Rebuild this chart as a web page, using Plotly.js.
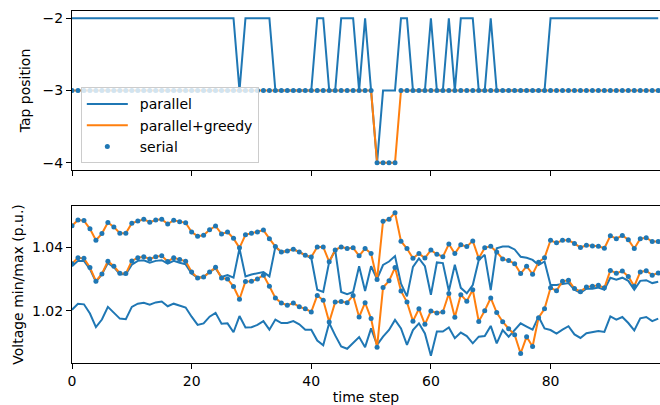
<!DOCTYPE html>
<html><head><meta charset="utf-8">
<script src="https://cdn.plot.ly/plotly-3.0.1.min.js"></script>
<style>html,body{margin:0;padding:0;background:#fff}#chart{width:660px;height:405px}</style>
</head><body><div id="chart"></div>
<script>
// time steps 0..98
const timeSteps = [];
for (let i = 0; i < 99; i++) timeSteps.push(i);

const parallelTap = [
 -2,-2,-2,-2,-2,-2,-2,-2,-2,-2,
 -2,-2,-2,-2,-2,-2,-2,-2,-2,-2,
 -2,-2,-2,-2,-2,-2,-2,-2,-3,-2,
 -2,-2,-2,-2,-3,-3,-3,-3,-3,-3,
 -3,-2,-2,-3,-3,-2,-2,-2,-3,-2,
 -3,-4,-3,-3,-3,-2,-2,-3,-3,-3,
 -2,-3,-3,-2,-3,-2,-2,-2,-3,-3,
 -2,-3,-3,-3,-3,-3,-3,-3,-3,-3,
 -2,-2,-2,-2,-2,-2,-2,-2,-2,-2,
 -2,-2,-2,-2,-2,-2,-2,-2,-2];
const greedyTap = [
 -3,-3,-3,-3,-3,-3,-3,-3,-3,-3,
 -3,-3,-3,-3,-3,-3,-3,-3,-3,-3,
 -3,-3,-3,-3,-3,-3,-3,-3,-3,-3,
 -3,-3,-3,-3,-3,-3,-3,-3,-3,-3,
 -3,-3,-3,-3,-3,-3,-3,-3,-3,-3,
 -3,-4,-4,-4,-4,-3,-3,-3,-3,-3,
 -3,-3,-3,-3,-3,-3,-3,-3,-3,-3,
 -3,-3,-3,-3,-3,-3,-3,-3,-3,-3,
 -3,-3,-3,-3,-3,-3,-3,-3,-3,-3,
 -3,-3,-3,-3,-3,-3,-3,-3,-3];
const serialTap = [
 -3,-3,-3,-3,-3,-3,-3,-3,-3,-3,
 -3,-3,-3,-3,-3,-3,-3,-3,-3,-3,
 -3,-3,-3,-3,-3,-3,-3,-3,-3,-3,
 -3,-3,-3,-3,-3,-3,-3,-3,-3,-3,
 -3,-3,-3,-3,-3,-3,-3,-3,-3,-3,
 -3,-4,-4,-4,-4,-3,-3,-3,-3,-3,
 -3,-3,-3,-3,-3,-3,-3,-3,-3,-3,
 -3,-3,-3,-3,-3,-3,-3,-3,-3,-3,
 -3,-3,-3,-3,-3,-3,-3,-3,-3,-3,
 -3,-3,-3,-3,-3,-3,-3,-3,-3];

const parallelVmax = [
 1.0340,1.0357,1.0357,1.0331,1.0291,1.0315,1.0350,1.0337,1.0315,1.0315,
 1.0345,1.0357,1.0359,1.0351,1.0357,1.0359,1.0348,1.0357,1.0351,1.0346,
 1.0317,1.0304,1.0306,1.0322,1.0333,1.0306,1.0312,1.0304,1.0396,1.0308,
 1.0314,1.0319,1.0322,1.0308,1.0401,1.0385,1.0388,1.0394,1.0385,1.0375,
 1.0366,1.0266,1.0259,1.0354,1.0391,1.0259,1.0252,1.0259,1.0340,1.0262,
 1.0340,1.0300,1.0344,1.0355,1.0372,1.0285,1.0245,1.0338,1.0365,1.0340,
 1.0250,1.0352,1.0350,1.0262,1.0345,1.0272,1.0255,1.0281,1.0360,1.0376,
 1.0265,1.0397,1.0402,1.0402,1.0393,1.0370,1.0367,1.0360,1.0344,1.0355,
 1.0281,1.0281,1.0285,1.0287,1.0266,1.0256,1.0269,1.0269,1.0273,1.0266,
 1.0304,1.0298,1.0304,1.0294,1.0266,1.0294,1.0296,1.0287,1.0291];
const parallelVmin = [
 1.0203,1.0222,1.0220,1.0191,1.0148,1.0172,1.0212,1.0193,1.0175,1.0173,
 1.0212,1.0222,1.0225,1.0219,1.0226,1.0229,1.0214,1.0222,1.0216,1.0210,
 1.0181,1.0155,1.0160,1.0181,1.0193,1.0159,1.0160,1.0132,1.0183,1.0147,
 1.0148,1.0155,1.0167,1.0140,1.0172,1.0161,1.0161,1.0167,1.0157,1.0140,
 1.0140,1.0106,1.0091,1.0161,1.0122,1.0087,1.0080,1.0098,1.0117,1.0085,
 1.0144,1.0092,1.0118,1.0139,1.0171,1.0144,1.0092,1.0139,1.0160,1.0128,
 1.0058,1.0134,1.0134,1.0147,1.0113,1.0131,1.0120,1.0097,1.0118,1.0120,
 1.0152,1.0097,1.0139,1.0118,1.0140,1.0160,1.0150,1.0140,1.0181,1.0144,
 1.0139,1.0128,1.0140,1.0151,1.0125,1.0114,1.0129,1.0133,1.0136,1.0133,
 1.0182,1.0172,1.0180,1.0161,1.0138,1.0176,1.0180,1.0167,1.0175];
const greedyVmax = [
 1.0468,1.0486,1.0484,1.0458,1.0422,1.0443,1.0478,1.0464,1.0444,1.0444,
 1.0476,1.0483,1.0488,1.0479,1.0486,1.0488,1.0473,1.0485,1.0480,1.0477,
 1.0448,1.0435,1.0438,1.0455,1.0467,1.0442,1.0448,1.0428,1.0398,1.0439,
 1.0444,1.0448,1.0454,1.0427,1.0402,1.0385,1.0388,1.0394,1.0385,1.0375,
 1.0369,1.0401,1.0401,1.0354,1.0391,1.0401,1.0396,1.0398,1.0373,1.0396,
 1.0380,1.0298,1.0482,1.0488,1.0509,1.0419,1.0396,1.0365,1.0380,1.0366,
 1.0391,1.0378,1.0370,1.0410,1.0380,1.0408,1.0402,1.0420,1.0365,1.0398,
 1.0403,1.0385,1.0363,1.0358,1.0348,1.0317,1.0340,1.0315,1.0353,1.0367,
 1.0422,1.0414,1.0422,1.0422,1.0412,1.0399,1.0406,1.0404,1.0403,1.0397,
 1.0436,1.0427,1.0437,1.0424,1.0396,1.0427,1.0430,1.0418,1.0418];
const greedyVmin = [
 1.0348,1.0367,1.0365,1.0336,1.0293,1.0316,1.0356,1.0340,1.0318,1.0317,
 1.0357,1.0367,1.0370,1.0363,1.0370,1.0373,1.0355,1.0367,1.0361,1.0356,
 1.0322,1.0303,1.0306,1.0322,1.0337,1.0303,1.0300,1.0276,1.0236,1.0292,
 1.0293,1.0300,1.0312,1.0277,1.0240,1.0224,1.0217,1.0224,1.0212,1.0206,
 1.0196,1.0248,1.0233,1.0164,1.0227,1.0229,1.0225,1.0248,1.0180,1.0225,
 1.0175,1.0085,1.0273,1.0294,1.0336,1.0262,1.0227,1.0167,1.0206,1.0157,
 1.0199,1.0193,1.0196,1.0254,1.0179,1.0250,1.0230,1.0266,1.0166,1.0200,
 1.0240,1.0194,1.0165,1.0143,1.0124,1.0065,1.0118,1.0087,1.0178,1.0206,
 1.0272,1.0263,1.0293,1.0296,1.0270,1.0260,1.0275,1.0277,1.0280,1.0272,
 1.0327,1.0318,1.0325,1.0308,1.0277,1.0322,1.0326,1.0312,1.0319];
const serialVmax = [
 1.0468,1.0486,1.0484,1.0458,1.0422,1.0443,1.0478,1.0464,1.0444,1.0444,
 1.0476,1.0483,1.0488,1.0479,1.0486,1.0488,1.0473,1.0485,1.0480,1.0477,
 1.0448,1.0435,1.0438,1.0455,1.0467,1.0442,1.0448,1.0428,1.0398,1.0439,
 1.0444,1.0448,1.0454,1.0427,1.0402,1.0385,1.0388,1.0394,1.0385,1.0375,
 1.0369,1.0401,1.0401,1.0354,1.0391,1.0401,1.0396,1.0398,1.0373,1.0396,
 1.0380,1.0298,1.0482,1.0488,1.0509,1.0419,1.0396,1.0365,1.0380,1.0366,
 1.0391,1.0378,1.0370,1.0410,1.0380,1.0408,1.0402,1.0420,1.0365,1.0398,
 1.0403,1.0385,1.0363,1.0358,1.0348,1.0317,1.0340,1.0315,1.0353,1.0367,
 1.0422,1.0414,1.0422,1.0422,1.0412,1.0399,1.0406,1.0404,1.0403,1.0397,
 1.0436,1.0427,1.0437,1.0424,1.0396,1.0427,1.0430,1.0418,1.0418];
const serialVmin = [
 1.0348,1.0367,1.0365,1.0336,1.0293,1.0316,1.0356,1.0340,1.0318,1.0317,
 1.0357,1.0367,1.0370,1.0363,1.0370,1.0373,1.0355,1.0367,1.0361,1.0356,
 1.0322,1.0303,1.0306,1.0322,1.0337,1.0303,1.0300,1.0276,1.0236,1.0292,
 1.0293,1.0300,1.0312,1.0277,1.0240,1.0224,1.0217,1.0224,1.0212,1.0206,
 1.0196,1.0248,1.0233,1.0164,1.0227,1.0229,1.0225,1.0248,1.0180,1.0225,
 1.0175,1.0085,1.0273,1.0294,1.0336,1.0262,1.0227,1.0167,1.0206,1.0157,
 1.0199,1.0193,1.0196,1.0254,1.0179,1.0250,1.0230,1.0266,1.0166,1.0200,
 1.0240,1.0194,1.0165,1.0143,1.0124,1.0065,1.0118,1.0087,1.0178,1.0206,
 1.0272,1.0263,1.0293,1.0296,1.0270,1.0260,1.0275,1.0277,1.0280,1.0272,
 1.0327,1.0318,1.0325,1.0308,1.0277,1.0322,1.0326,1.0312,1.0319];

const seriesNames = ['parallel', 'parallel+greedy', 'serial'];
const tapTicks = [-4, -3, -2];
const tapTickText = ['−4', '−3', '−2'];
const voltTicks = [1.02, 1.04];
const voltTickText = ['1.02', '1.04'];
const stepTicks = [0, 20, 40, 60, 80];
const stepTickText = ['0', '20', '40', '60', '80'];

const BLUE = '#1f77b4', ORANGE = '#ff7f0e';
const lineW = 2;
const PAD = '\u2002'; // small gap between legend symbol and label

function lineTrace(y, color, name, xa, ya, show) {
  return {x: timeSteps, y: y, type: 'scatter', mode: 'lines', name: PAD + name,
    line: {color: color, width: lineW}, xaxis: xa, yaxis: ya,
    legendgroup: name, showlegend: show, hoverinfo: 'skip'};
}
function dotTrace(y, name, xa, ya, show) {
  return {x: timeSteps, y: y, type: 'scatter', mode: 'markers', name: PAD + name,
    marker: {color: BLUE, size: 5}, xaxis: xa, yaxis: ya,
    legendgroup: name, showlegend: show, hoverinfo: 'skip'};
}

const data = [
  lineTrace(parallelTap, BLUE, seriesNames[0], 'x', 'y', true),
  lineTrace(greedyTap, ORANGE, seriesNames[1], 'x', 'y', true),
  dotTrace(serialTap, seriesNames[2], 'x', 'y', true),
  lineTrace(parallelVmin, BLUE, seriesNames[0], 'x2', 'y2', false),
  lineTrace(parallelVmax, BLUE, seriesNames[0], 'x2', 'y2', false),
  lineTrace(greedyVmin, ORANGE, seriesNames[1], 'x2', 'y2', false),
  lineTrace(greedyVmax, ORANGE, seriesNames[1], 'x2', 'y2', false),
  dotTrace(serialVmin, seriesNames[2], 'x2', 'y2', false),
  dotTrace(serialVmax, seriesNames[2], 'x2', 'y2', false)
];

const axCommon = {showgrid: false, zeroline: false, showline: true, linecolor: '#000', linewidth: 1,
  ticks: 'outside', ticklen: 5, tickwidth: 1, tickcolor: '#000',
  tickfont: {family: 'DejaVu Sans', size: 14, color: '#000'}};

const layout = {
  width: 660, height: 405,
  margin: {l: 72, r: 0, t: 11, b: 42, pad: 0},
  paper_bgcolor: '#fff', plot_bgcolor: '#fff',
  font: {family: 'DejaVu Sans', size: 14, color: '#000'},
  showlegend: true,
  legend: {x: 0.015, y: 0.783, xanchor: 'left', yanchor: 'top',
    bgcolor: 'rgba(255,255,255,0.8)', bordercolor: '#cccccc', borderwidth: 1,
    font: {family: 'DejaVu Sans', size: 14, color: '#000'}, itemwidth: 41, tracegroupgap: 0},
  xaxis: Object.assign({}, axCommon, {domain: [0, 1], anchor: 'y', range: [0, 98.3],
    tickvals: stepTicks, ticktext: stepTickText, showticklabels: false, mirror: true}),
  yaxis: Object.assign({}, axCommon, {domain: [0.548, 1], anchor: 'x', range: [-4.1, -1.9],
    tickvals: tapTicks, ticktext: tapTickText,
    title: {text: 'Tap position', font: {family: 'DejaVu Sans', size: 14, color: '#000'}, standoff: 8}}),
  xaxis2: Object.assign({}, axCommon, {domain: [0, 1], anchor: 'y2', range: [0, 98.3],
    tickvals: stepTicks, ticktext: stepTickText, mirror: true,
    title: {text: 'time step', font: {family: 'DejaVu Sans', size: 14, color: '#000'}, standoff: 4}}),
  yaxis2: Object.assign({}, axCommon, {domain: [0, 0.446], anchor: 'x2', range: [1.0035, 1.053],
    tickvals: voltTicks, ticktext: voltTickText,
    title: {text: 'Voltage min/max (p.u.)', font: {family: 'DejaVu Sans', size: 14, color: '#000'}, standoff: 5}})
};

Plotly.newPlot('chart', data, layout, {staticPlot: true, displayModeBar: false});
</script>
</body></html>
